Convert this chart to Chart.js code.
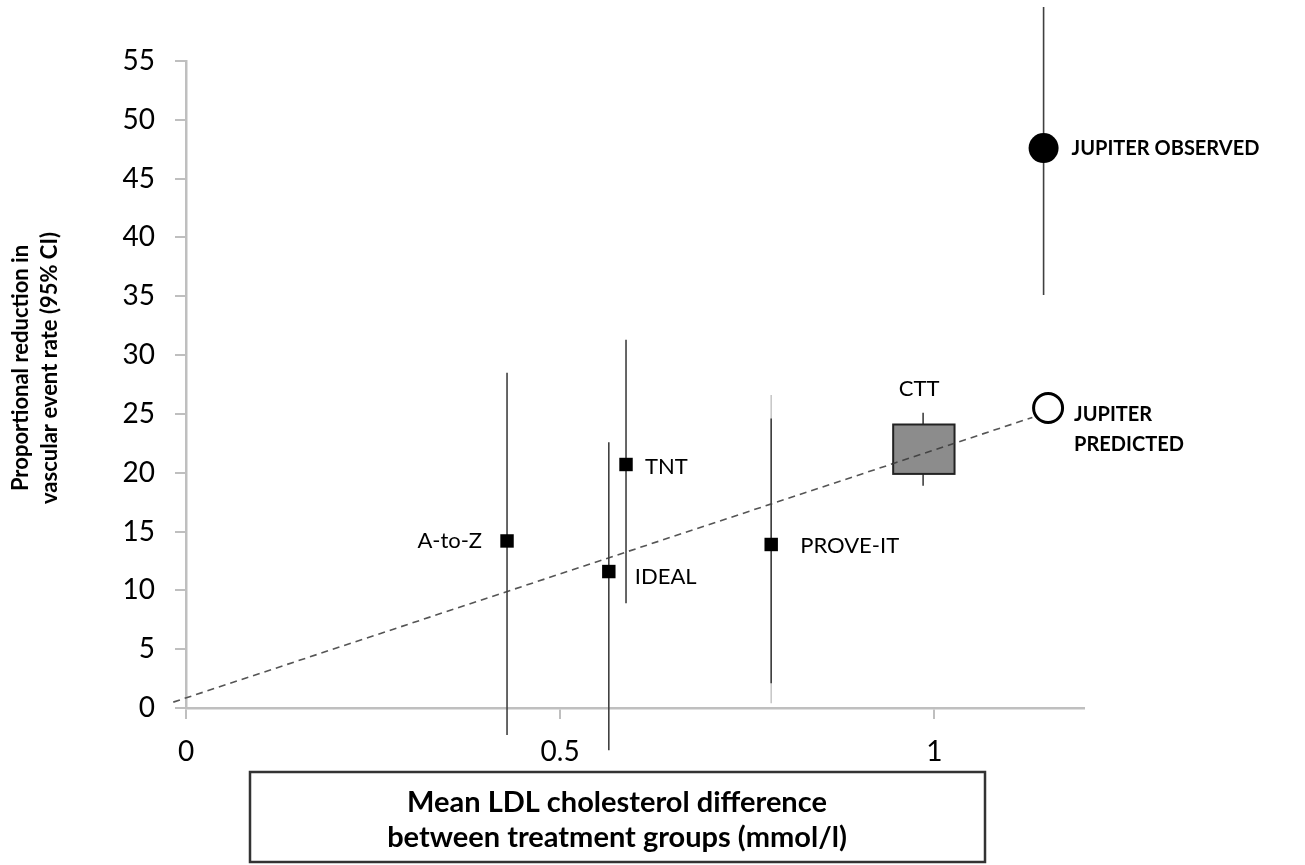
<!DOCTYPE html>
<html>
<head>
<meta charset="utf-8">
<script src="https://cdn.jsdelivr.net/npm/chart.js@4.4.1/dist/chart.umd.min.js"></script>
<style>
  body { margin: 0; background: #fff; }
  #wrap { width: 1305px; height: 865px; position: relative; }
</style>
</head>
<body>
<div id="wrap"><canvas id="chart"></canvas></div>
<script>
// trials with a single point + 95% CI
const studies = ['A-to-Z', 'IDEAL', 'TNT', 'PROVE-IT'];
const ldlDiff = [0.429, 0.565, 0.588, 0.782];
const reduction = [14.2, 11.6, 20.7, 13.9];
const ciLow = [-2.3, -3.6, 8.9, 2.1];
const ciHigh = [28.5, 22.6, 31.3, 24.6];
// PROVE-IT faint outer CI
const proveOuter = [0.4, 26.6];

// CTT meta-analysis box
const cttX = 0.985;
const cttBoxX = [0.945, 1.027];
const cttBoxY = [19.9, 24.1];
const cttWhisker = [18.9, 25.1];

// JUPITER
const jupiterX = [1.146, 1.152];
const jupiterObserved = 47.6;
const jupiterCI = [35.1, 59.6];
const jupiterPredicted = 25.5;

// CTT regression line (dashed)
const trendX = [-0.017, 1.131];
const trendY = [0.5, 24.7];

const xTicks = [0, 0.5, 1];
const xTickLabels = ['0', '0.5', '1'];
const yTicks = [0, 5, 10, 15, 20, 25, 30, 35, 40, 45, 50, 55];

const FONT = 'Lato, "Open Sans", sans-serif';
const AXIS = '#bfbfbf';
const BAR = '#404040';

const datasets = [];

// error bars
studies.forEach((s, i) => {
  datasets.push({
    type: 'line',
    data: [{ x: ldlDiff[i], y: ciLow[i] }, { x: ldlDiff[i], y: ciHigh[i] }],
    borderColor: BAR, borderWidth: 1.6, pointRadius: 0, clip: false
  });
});
datasets.push({
  type: 'line',
  data: [{ x: ldlDiff[3], y: proveOuter[0] }, { x: ldlDiff[3], y: proveOuter[1] }],
  borderColor: '#c8c8c8', borderWidth: 1.6, pointRadius: 0, clip: false, order: 5
});
datasets.push({
  type: 'line',
  data: [{ x: cttX, y: cttWhisker[0] }, { x: cttX, y: cttWhisker[1] }],
  borderColor: BAR, borderWidth: 1.6, pointRadius: 0, clip: false
});
datasets.push({
  type: 'line',
  data: [{ x: jupiterX[0], y: jupiterCI[0] }, { x: jupiterX[0], y: jupiterCI[1] }],
  borderColor: BAR, borderWidth: 1.6, pointRadius: 0, clip: false
});

// dashed line
datasets.push({
  type: 'line',
  data: [{ x: trendX[0], y: trendY[0] }, { x: trendX[1], y: trendY[1] }],
  borderColor: '#555', borderWidth: 1.6, borderDash: [7, 5], pointRadius: 0, clip: false
});

// square markers
datasets.push({
  type: 'scatter',
  data: studies.map((s, i) => ({ x: ldlDiff[i], y: reduction[i] })),
  pointStyle: 'rect', pointRadius: 9.5, backgroundColor: '#000', borderColor: '#000',
  borderWidth: 0, clip: false, order: -1
});
// JUPITER observed / predicted
datasets.push({
  type: 'scatter',
  data: [{ x: jupiterX[0], y: jupiterObserved }],
  pointStyle: 'circle', pointRadius: 15, backgroundColor: '#000', borderColor: '#000',
  borderWidth: 0, clip: false, order: -1
});
datasets.push({
  type: 'scatter',
  data: [{ x: jupiterX[1], y: jupiterPredicted }],
  pointStyle: 'circle', pointRadius: 14.5, backgroundColor: '#fff', borderColor: '#000',
  borderWidth: 3, clip: false, order: -1
});

// CTT box + text labels + axis titles
const annotate = {
  id: 'annotate',
  afterDatasetsDraw(chart) {
    const ctx = chart.ctx;
    const xs = chart.scales.x, ys = chart.scales.y;
    ctx.save();

    // CTT box
    const bx0 = xs.getPixelForValue(cttBoxX[0]), bx1 = xs.getPixelForValue(cttBoxX[1]);
    const by0 = ys.getPixelForValue(cttBoxY[1]), by1 = ys.getPixelForValue(cttBoxY[0]);
    ctx.fillStyle = '#8c8c8c';
    ctx.strokeStyle = '#222';
    ctx.lineWidth = 2;
    ctx.fillRect(bx0, by0, bx1 - bx0, by1 - by0);
    ctx.strokeRect(bx0, by0, bx1 - bx0, by1 - by0);
    // dashed line visible across the box
    ctx.save();
    ctx.beginPath();
    ctx.rect(bx0, by0, bx1 - bx0, by1 - by0);
    ctx.clip();
    ctx.setLineDash([7, 5]);
    ctx.strokeStyle = '#444';
    ctx.lineWidth = 1.6;
    ctx.beginPath();
    ctx.moveTo(xs.getPixelForValue(trendX[0]), ys.getPixelForValue(trendY[0]));
    ctx.lineTo(xs.getPixelForValue(trendX[1]), ys.getPixelForValue(trendY[1]));
    ctx.stroke();
    ctx.restore();

    // point labels
    ctx.fillStyle = '#000';
    ctx.textBaseline = 'middle';
    ctx.font = '22px ' + FONT;
    const offs = [[-25, 0, 'right'], [26, 5, 'left'], [19, 2, 'left'], [29, 1, 'left']];
    studies.forEach((s, i) => {
      ctx.textAlign = offs[i][2];
      ctx.fillText(s, xs.getPixelForValue(ldlDiff[i]) + offs[i][0], ys.getPixelForValue(reduction[i]) + offs[i][1]);
    });
    ctx.textAlign = 'center';
    ctx.fillText('CTT', xs.getPixelForValue(cttX) - 4, ys.getPixelForValue(cttWhisker[1]) - 24);

    ctx.font = 'bold 20px ' + FONT;
    ctx.textAlign = 'left';
    ctx.fillText('JUPITER OBSERVED', xs.getPixelForValue(jupiterX[0]) + 28, ys.getPixelForValue(jupiterObserved));
    const px = xs.getPixelForValue(jupiterX[1]) + 26, py = ys.getPixelForValue(jupiterPredicted);
    ctx.fillText('JUPITER', px, py + 7);
    ctx.fillText('PREDICTED', px, py + 37);

    // y axis title
    ctx.save();
    ctx.translate(0, 368);
    ctx.rotate(-Math.PI / 2);
    ctx.textAlign = 'center';
    ctx.font = 'bold 22px ' + FONT;
    ctx.fillText('Proportional reduction in', 0, 21);
    ctx.fillText('vascular event rate (95% CI)', 0, 50);
    ctx.restore();

    // x axis title in box
    ctx.strokeStyle = '#333';
    ctx.lineWidth = 2.5;
    ctx.strokeRect(250, 772, 735, 90);
    ctx.textAlign = 'center';
    ctx.font = 'bold 29px ' + FONT;
    ctx.fillText('Mean LDL cholesterol difference', 617, 803);
    ctx.fillText('between treatment groups (mmol/l)', 617, 838);

    ctx.restore();
  }
};

new Chart(document.getElementById('chart'), {
  data: { datasets },
  options: {
    responsive: true,
    maintainAspectRatio: false,
    animation: false,
    events: [],
    layout: { padding: { top: 61, right: 221, bottom: 0, left: 0 } },
    plugins: { legend: { display: false }, tooltip: { enabled: false } },
    scales: {
      x: {
        type: 'linear', min: 0, max: 1.2,
        afterBuildTicks: s => { s.ticks = xTicks.map(v => ({ value: v })); },
        afterFit: s => { s.height = 157; },
        grid: { drawOnChartArea: false, drawTicks: true, tickLength: 11, color: AXIS, lineWidth: 2 },
        border: { color: AXIS, width: 2.5 },
        ticks: {
          color: '#000', padding: 16, font: { family: FONT, size: 28 },
          callback: (v, i) => xTickLabels[i]
        }
      },
      y: {
        type: 'linear', min: 0, max: 55,
        afterBuildTicks: s => { s.ticks = yTicks.map(v => ({ value: v })); },
        afterFit: s => { s.width = 186; },
        grid: { drawOnChartArea: false, drawTicks: true, tickLength: 11, color: AXIS, lineWidth: 2 },
        border: { color: AXIS, width: 2.5 },
        ticks: { color: '#000', padding: 20, font: { family: FONT, size: 28 } }
      }
    }
  },
  plugins: [annotate]
});
</script>
</body>
</html>
